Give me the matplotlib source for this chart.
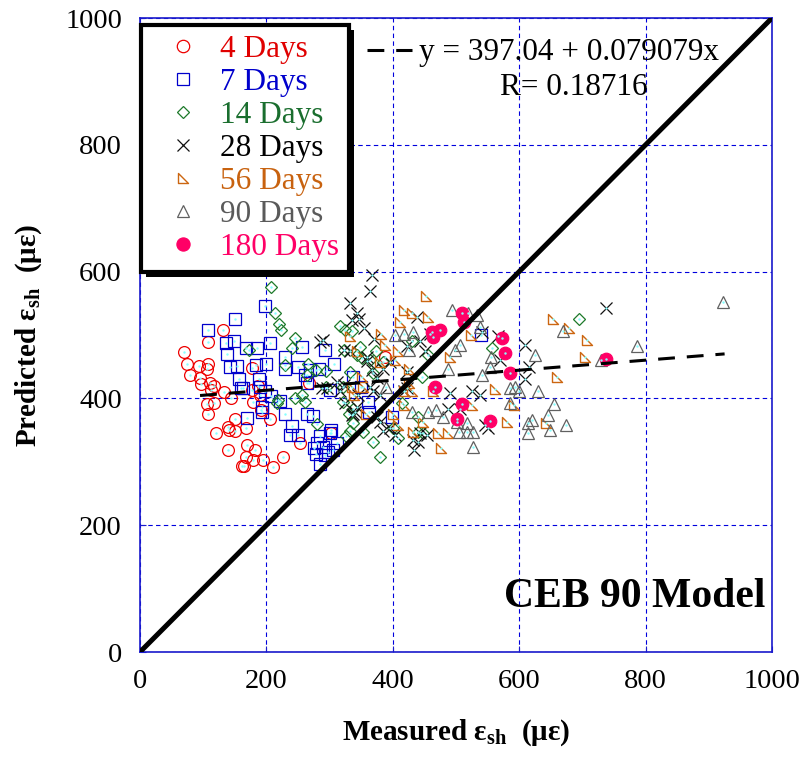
import matplotlib
matplotlib.use('Agg')
import matplotlib.pyplot as plt
from matplotlib.path import Path
from matplotlib.patches import Rectangle
from matplotlib.transforms import IdentityTransform

plt.rcParams['font.family'] = ['Liberation Serif', 'DejaVu Serif']
plt.rcParams['mathtext.fontset'] = 'custom'
plt.rcParams['mathtext.rm'] = 'Liberation Serif'
plt.rcParams['mathtext.bf'] = 'Liberation Serif:bold'
plt.rcParams['mathtext.it'] = 'Liberation Serif:italic'

# measured vs predicted shrinkage strain (micro-strain)
x_4d = [131, 107, 70, 74, 94, 107, 106, 79, 95, 97, 111, 117, 112, 133, 144, 106, 117, 107, 151, 140,
        141, 150, 120, 140, 169, 168, 161, 164, 177, 187, 177, 190, 179, 192, 205, 168, 182, 179, 194, 211,
        227, 253, 268, 302, 388]
y_4d = [508, 489, 473, 455, 451, 455, 446, 437, 432, 422, 424, 419, 414, 410, 400, 391, 392, 375, 368, 355,
        350, 349, 345, 319, 326, 308, 293, 294, 448, 419, 414, 406, 395, 382, 368, 354, 319, 303, 303, 292,
        308, 329, 424, 346, 466]

x_7d = [197, 151, 108, 149, 136, 137, 167, 185, 205, 256, 143, 154, 184, 199, 229, 229, 250, 157, 160, 189,
        190, 198, 208, 221, 193, 193, 170, 229, 264, 273, 240, 237, 250, 269, 284, 264, 292, 261, 307, 163,
        285, 300, 280, 275, 290, 278, 293, 306, 285, 337, 350, 361, 362, 301, 303, 312, 297, 398, 540]
y_7d = [546, 526, 508, 490, 487, 470, 479, 479, 487, 481, 450, 451, 453, 454, 465, 446, 449, 430, 416, 430,
        418, 411, 403, 396, 387, 379, 369, 375, 376, 373, 356, 343, 343, 445, 447, 424, 476, 437, 455, 416,
        340, 345, 329, 321, 324, 313, 311, 319, 297, 434, 418, 394, 379, 413, 350, 329, 316, 371, 500]

x_14d = [208, 214, 220, 223, 245, 240, 173, 229, 266, 279, 294, 264, 245, 256, 261, 216, 219, 280, 295, 316,
         324, 335, 348, 323, 343, 351, 364, 373, 384, 332, 369, 321, 321, 330, 337, 337, 332, 353, 326, 369,
         380, 401, 408, 414, 430, 440, 448, 440, 456, 446, 557, 695]
y_14d = [576, 535, 517, 508, 495, 480, 476, 452, 455, 445, 444, 437, 400, 405, 394, 392, 397, 360, 418, 514,
         508, 507, 481, 476, 468, 463, 461, 474, 458, 442, 440, 418, 395, 375, 384, 361, 349, 347, 341, 332,
         308, 353, 337, 392, 490, 371, 345, 347, 468, 434, 480, 526]

x_28d = [367, 364, 333, 343, 336, 347, 354, 370, 322, 332, 359, 359, 396, 367, 375, 322, 316, 345, 364, 369,
         380, 343, 335, 340, 375, 380, 385, 396, 403, 422, 422, 432, 440, 434, 422, 443, 311, 438, 459, 385,
         288, 417, 490, 525, 538, 488, 506, 443, 454, 546, 738, 609, 616, 609, 570, 567, 541, 551, 290, 285,
         296, 451, 324, 337]
y_28d = [594, 570, 551, 534, 524, 526, 511, 494, 477, 474, 466, 459, 458, 445, 432, 421, 411, 405, 418, 411,
         405, 387, 374, 379, 370, 362, 349, 354, 342, 442, 416, 334, 332, 319, 482, 490, 426, 529, 502, 447,
         416, 411, 408, 412, 405, 383, 384, 345, 342, 358, 542, 484, 450, 430, 461, 498, 505, 353, 492, 489,
         416, 474, 392, 376]

x_56d = [453, 417, 430, 456, 411, 382, 332, 388, 409, 344, 380, 403, 426, 351, 335, 339, 353, 425, 417, 430,
         417, 401, 358, 409, 448, 432, 471, 487, 477, 490, 525, 523, 464, 562, 580, 654, 679, 708, 704, 660,
         591, 643]
y_56d = [561, 540, 534, 529, 520, 502, 498, 484, 474, 474, 458, 461, 447, 433, 418, 406, 418, 424, 411, 411,
         390, 376, 376, 358, 363, 347, 345, 345, 321, 465, 390, 500, 411, 415, 363, 526, 511, 492, 466, 434,
         390, 361]

x_90d = [494, 519, 534, 538, 403, 417, 432, 425, 390, 506, 498, 488, 541, 556, 554, 585, 593, 585, 430, 456,
         469, 480, 502, 517, 505, 518, 527, 527, 669, 625, 600, 629, 655, 646, 614, 621, 614, 649, 674, 786,
         730, 923]
y_90d = [539, 534, 531, 513, 500, 502, 505, 476, 418, 484, 476, 447, 437, 466, 450, 416, 418, 392, 379, 379,
         382, 371, 363, 361, 347, 347, 347, 324, 506, 468, 412, 412, 391, 374, 361, 366, 346, 350, 358, 482,
         461, 552]

x_180d = [509, 512, 462, 475, 464, 572, 577, 585, 467, 509, 501, 554, 738]
y_180d = [534, 521, 505, 508, 497, 495, 472, 440, 418, 391, 367, 364, 462]

labels = ['4 Days', '7 Days', '14 Days', '28 Days', '56 Days', '90 Days', '180 Days']
xs = [x_4d, x_7d, x_14d, x_28d, x_56d, x_90d, x_180d]
ys = [y_4d, y_7d, y_14d, y_28d, y_56d, y_90d, y_180d]

# regression shown on the chart
intercept = 397.04
slope = 0.079079
r_value = 0.18716
fit_range = [95, 925]
equality = [0, 1000]

# right triangle marker
rtri = Path([(-1, 1), (-1, -1), (1, -1), (-1, 1)],
            [Path.MOVETO, Path.LINETO, Path.LINETO, Path.CLOSEPOLY])

styles = [
    dict(marker='o', ms=8.5, mfc='none', mec='#ee0000', mew=0.9),
    dict(marker='s', ms=8.5, mfc='none', mec='#0000cc', mew=0.9),
    dict(marker='D', ms=6.2, mfc='none', mec='#1d7a2a', mew=0.9),
    dict(marker='x', ms=8, mec='#111111', mew=0.9),
    dict(marker=rtri, ms=7.5, mfc='none', mec='#cc6611', mew=1.0),
    dict(marker='^', ms=8.5, mfc='none', mec='#606060', mew=0.9),
    dict(marker='o', ms=9, mfc='#ff0066', mec='#ff0066', mew=0.9),
]
text_colors = ['#e00000', '#0000cc', '#1a6e2e', '#000000', '#c8620f', '#5a5a5a', '#ff0066']

fig = plt.figure(figsize=(8.07, 7.59), dpi=100)
ax = fig.add_axes([140 / 807, 107 / 759, 632 / 807, 634 / 759])

handles = []
for x, y, st, lab in zip(xs, ys, styles, labels):
    h, = ax.plot(x, y, ls='none', label=lab, zorder=3, **st)
    ax.plot(x, y, ls='none', marker='.', ms=1.5, color='#8ff', zorder=3.5)
    handles.append(h)

ax.plot(equality, equality, color='k', lw=3.6, zorder=5, solid_capstyle='butt')
fit_y = [intercept + slope * v for v in fit_range]
ax.plot(fit_range, fit_y, color='k', lw=2.2, dashes=(5.5, 3.9), zorder=6)

ax.set_xlim(0, 1000)
ax.set_ylim(0, 1000)
ax.set_xticks(range(0, 1001, 200))
ax.set_yticks(range(0, 1001, 200))
ax.grid(True, color='#0000dd', ls=(0, (4, 3)), lw=0.8)
ax.set_axisbelow(True)
for s in ax.spines.values():
    s.set_color('#1a1acc')
    s.set_linewidth(1.2)
ax.tick_params(direction='in', length=4, color='#1a1acc', labelsize=20.5)
ax.tick_params(axis='x', pad=12)
ax.tick_params(axis='y', pad=13)

ax.set_xlabel(r'Measured $\mathbf{ε}_{\mathbf{sh}}$  (με)', fontsize=21, fontweight='bold')
ax.set_ylabel(r'Predicted $\mathbf{ε}_{\mathbf{sh}}$  (με)', fontsize=21, fontweight='bold')
ax.xaxis.set_label_coords(0.5, -0.103)
ax.yaxis.set_label_coords(-0.152, 0.5)

leg = ax.legend(handles=handles, loc='upper left', bbox_to_anchor=(0.002, 0.989),
                borderaxespad=0, fontsize=22.5, handlelength=2.0, handletextpad=0.2,
                borderpad=0.32, labelspacing=0.13, fancybox=False, framealpha=1,
                markerscale=1.05)
leg.get_frame().set_edgecolor('k')
leg.get_frame().set_linewidth(3)
leg.set_zorder(10)
for t, c in zip(leg.get_texts(), text_colors):
    t.set_color(c)

# equation key
ax.plot([0.359, 0.430], [0.9495, 0.9495], transform=ax.transAxes, color='k', lw=2.2,
        dashes=(5.5, 3.9), zorder=7)
ax.text(0.4415, 0.945, f'y = {intercept} + {slope}x', transform=ax.transAxes,
        fontsize=22.5, va='center', zorder=7)
ax.text(0.5696, 0.8896, f'R= {r_value}', transform=ax.transAxes,
        fontsize=22.5, va='center', zorder=7)
ax.text(0.989, 0.087, 'CEB 90 Model', transform=ax.transAxes, ha='right', va='center',
        fontsize=30, fontweight='bold', zorder=7)

# drop shadow behind the legend box
fig.canvas.draw()
bb = leg.get_window_extent()
shadow = Rectangle((bb.x0 + 5, bb.y0 - 5), bb.width, bb.height, transform=IdentityTransform(),
                   facecolor='k', edgecolor='none', zorder=9.5, clip_on=False)
ax.add_patch(shadow)

fig.savefig('out.png', dpi=100)
